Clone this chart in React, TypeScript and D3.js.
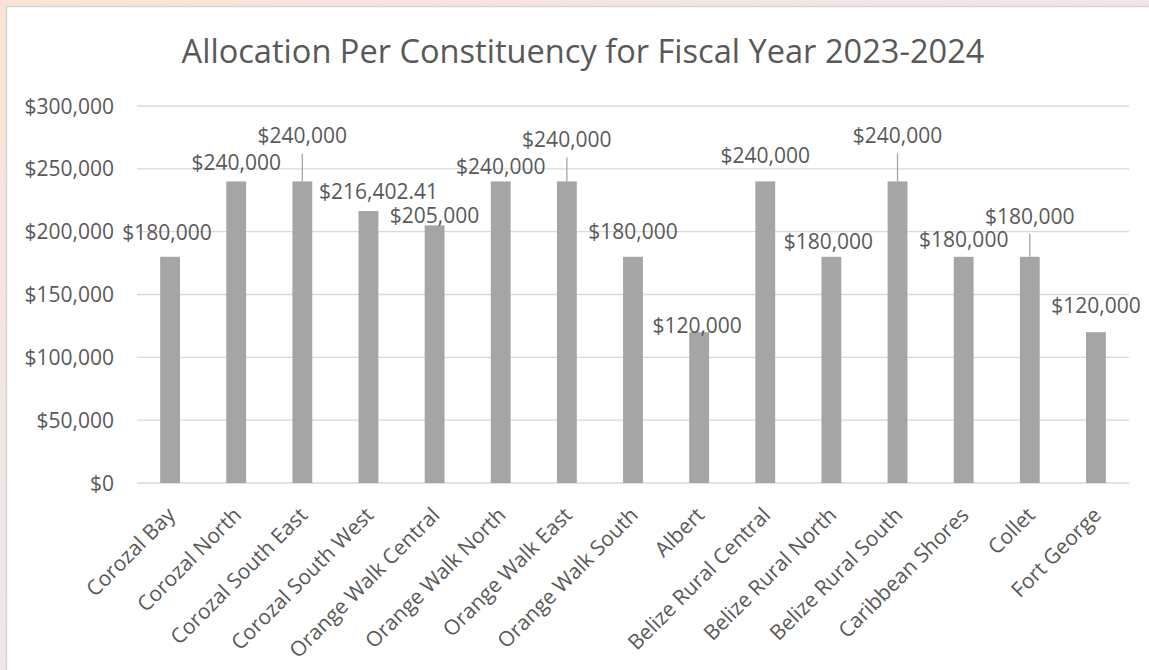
import React from "react";
import * as d3 from "d3";

const categories = [
  "Corozal Bay", "Corozal North", "Corozal South East", "Corozal South West",
  "Orange Walk Central", "Orange Walk North", "Orange Walk East", "Orange Walk South",
  "Albert", "Belize Rural Central", "Belize Rural North", "Belize Rural South",
  "Caribbean Shores", "Collet", "Fort George",
];
const values = [
  180000, 240000, 240000, 216402.41, 205000, 240000, 240000, 180000,
  120000, 240000, 180000, 240000, 180000, 180000, 120000,
];
const valueLabels = [
  "$180,000", "$240,000", "$240,000", "$216,402.41", "$205,000", "$240,000", "$240,000", "$180,000",
  "$120,000", "$240,000", "$180,000", "$240,000", "$180,000", "$180,000", "$120,000",
];
const yTicks = [0, 50000, 100000, 150000, 200000, 250000, 300000];
const title = "Allocation Per Constituency for Fiscal Year 2023-2024";

// label layout offsets (px) relative to bar top / bar center (baseline), and leader-line flags
const labelDx = [-3, 0, 0, 10, 0, 0, 0, 0, -2, 0, -3, 0, 0, 0, 0];
const labelDy = [-17, -11, -38, -12, -2, -7, -34, -18, 1, -18, -8, -38, -10, -33, -19];
const leader = [false, false, true, false, false, false, true, false, false, false, false, true, false, true, false];

const W = 1149;
const H = 670;
const FONT = "'Open Sans', 'DejaVu Sans', sans-serif";
const TXT = "#595959";

export default function App() {
  const x = d3.scaleBand<string>().domain(categories).range([137, 1129]).paddingInner(0.7).paddingOuter(0.35);
  const y = d3.scaleLinear().domain([0, 300000]).range([483, 106]);
  const fmt = (v: number) => "$" + d3.format(",")(v);

  return (
    <div style={{ position: "absolute", left: 0, top: 0 }}>
      <svg width={W} height={H} style={{ display: "block" }}>
        <defs>
          <linearGradient id="bg" x1="0" y1="0" x2="1" y2="1">
            <stop offset="0" stopColor="#FCE3D6" />
            <stop offset="0.5" stopColor="#EDE6EA" />
            <stop offset="1" stopColor="#DCE6F4" />
          </linearGradient>
        </defs>
        <rect x={0} y={0} width={W} height={H} fill="url(#bg)" />
        <rect x={6.5} y={6.5} width={W} height={H} fill="#FFFFFF" stroke="#D6D6D6" strokeWidth={1.5} />

        <text x={583} y={63} textAnchor="middle" fontFamily={FONT} fontSize={32.6} fill={TXT}>
          {title}
        </text>

        {yTicks.map((t) => (
          <g key={t}>
            <line x1={137} x2={1129} y1={y(t)} y2={y(t)} stroke="#D9D9D9" strokeWidth={t === 0 ? 1.5 : 1.3} />
            <text x={114} y={y(t)} dy="0.36em" textAnchor="end" fontFamily={FONT} fontSize={21} fill={TXT}>
              {fmt(t)}
            </text>
          </g>
        ))}

        {categories.map((c, i) => {
          const bx = x(c)!;
          const cx = bx + x.bandwidth() / 2;
          const top = y(values[i]);
          const ly = top + labelDy[i];
          return (
            <g key={c}>
              <rect x={bx} y={top} width={x.bandwidth()} height={y(0) - top} fill="#A5A5A5" />
              {leader[i] && (
                <line x1={cx} x2={cx} y1={top} y2={ly + 10} stroke="#A6A6A6" strokeWidth={1.3} />
              )}
              <text x={cx + labelDx[i]} y={ly} textAnchor="middle" fontFamily={FONT} fontSize={21} fill={TXT}>
                {valueLabels[i]}
              </text>
              <text
                transform={`translate(${cx - 4},${506}) rotate(-45)`}
                textAnchor="end"
                dy="0.7em"
                fontFamily={FONT}
                fontSize={21}
                fill={TXT}
              >
                {c}
              </text>
            </g>
          );
        })}
      </svg>
    </div>
  );
}
